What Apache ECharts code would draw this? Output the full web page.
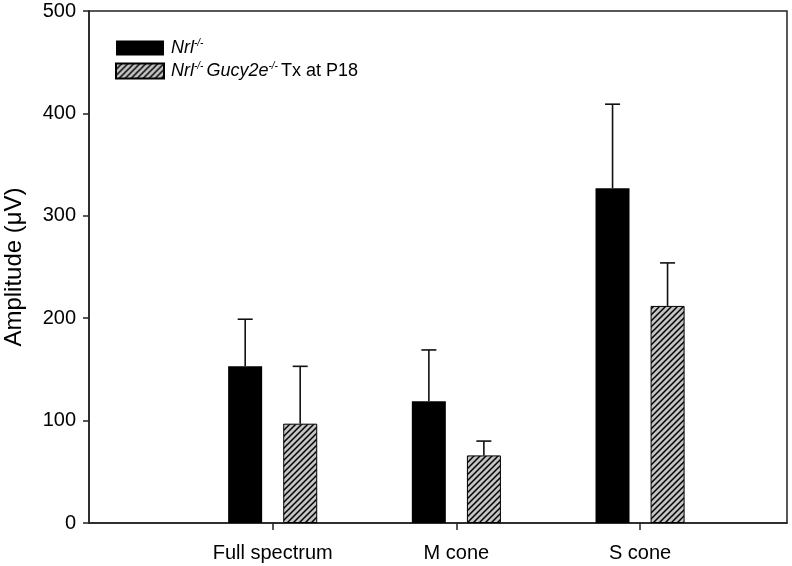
<!DOCTYPE html>
<html>
<head>
<meta charset="utf-8">
<script src="https://cdn.jsdelivr.net/npm/echarts@6/dist/echarts.min.js"></script>
<style>html,body{margin:0;padding:0;background:#fff}#c{width:792px;height:566px}</style>
</head>
<body>
<div id="c"></div>
<script>
const categories = ['Full spectrum', 'M cone', 'S cone'];
const nrlValues = [153, 119, 327];
const nrlErrors = [46, 50, 82];
const txValues = [97, 66, 212];
const txErrors = [56, 14, 42];
const yTicks = [0, 100, 200, 300, 400, 500];

const FONT = 'Liberation Sans, Arial, sans-serif';

// hatch pattern
const tile = document.createElement('canvas');
tile.width = 6; tile.height = 6;
const g = tile.getContext('2d');
g.fillStyle = '#c4c4c4';
g.fillRect(0, 0, 6, 6);
g.strokeStyle = '#000';
g.lineWidth = 1.5;
g.beginPath();
g.moveTo(-1, 7); g.lineTo(7, -1);
g.moveTo(-4, 4); g.lineTo(4, -4);
g.moveTo(2, 10); g.lineTo(10, 2);
g.stroke();
const hatch = { image: tile, repeat: 'repeat' };

const chart = echarts.init(document.getElementById('c'), null, { renderer: 'canvas' });

function errData(vals, errs) {
  return vals.map((v, i) => [i + 1, v, errs[i]]);
}
function errRender(offset) {
  return function (params, api) {
    const x = api.value(0), v = api.value(1), e = api.value(2);
    const p0 = api.coord([x, v]);
    const p1 = api.coord([x, v + e]);
    const cx = p0[0] + offset;
    const st = { stroke: '#111', lineWidth: 1.6 };
    return {
      type: 'group',
      children: [
        { type: 'line', shape: { x1: cx, y1: p0[1], x2: cx, y2: p1[1] }, style: st },
        { type: 'line', shape: { x1: cx - 7.5, y1: p1[1], x2: cx + 7.5, y2: p1[1] }, style: st }
      ]
    };
  };
}

const option = {
  animation: false,
  backgroundColor: '#fff',
  grid: {
    left: 89, top: 11, width: 698, height: 512, outerBoundsMode: 'none', containLabel: false,
    show: true, borderColor: '#222', borderWidth: 1.5, backgroundColor: 'transparent'
  },
  legend: {
    orient: 'vertical', left: 110, top: 33, itemWidth: 48, itemHeight: 15, itemGap: 4,
    icon: 'rect',
    data: ['Nrl', 'NrlGucy'],
    formatter: function (name) {
      return name === 'Nrl' ? '{i|Nrl}{s|-/-}' : '{i|Nrl}{s|-/-}{i|Gucy2e}{s|-/-}{n|Tx at P18}';
    },
    textStyle: {
      padding: [0, 0, 0, 2],
      rich: {
        i: { fontSize: 18, fontStyle: 'italic', fontFamily: FONT, color: '#000', lineHeight: 20 },
        s: { fontSize: 10, fontStyle: 'italic', fontFamily: FONT, color: '#000', lineHeight: 10, verticalAlign: 'top', padding: [0, 3, 0, 0] },
        n: { fontSize: 18, fontFamily: FONT, color: '#000', lineHeight: 20 }
      }
    }
  },
  xAxis: {
    type: 'value', min: 0, max: 3.8, interval: 1,
    splitLine: { show: false },
    axisLine: { show: true, lineStyle: { color: '#222', width: 1.5 } },
    axisTick: { show: true, length: 7, customValues: [1, 2, 3], lineStyle: { color: '#222', width: 1.5 } },
    axisLabel: {
      customValues: [1, 2, 3], margin: 20, fontSize: 20, fontFamily: FONT, color: '#000',
      formatter: function (v) { return categories[Math.round(v) - 1] || ''; }
    }
  },
  yAxis: {
    type: 'value', min: 0, max: 500, interval: 100,
    name: 'Amplitude (\u03bcV)', nameLocation: 'middle', nameGap: 63,
    nameTextStyle: { fontSize: 24, fontFamily: FONT, color: '#000' },
    splitLine: { show: false },
    axisLine: { show: true, lineStyle: { color: '#222', width: 1.5 } },
    axisTick: { show: true, length: 6, lineStyle: { color: '#222', width: 1.5 } },
    axisLabel: {
      margin: 13, fontSize: 20, fontFamily: FONT, color: '#000',
      formatter: function (v) { return yTicks.indexOf(v) >= 0 ? String(v) : ''; }
    }
  },
  series: [
    {
      name: 'Nrl', type: 'bar', barWidth: 34, barGap: '62%',
      data: nrlValues.map((v, i) => [i + 1, v]),
      itemStyle: { color: '#000' }
    },
    {
      name: 'NrlGucy', type: 'bar', barWidth: 34, barGap: '62%',
      data: txValues.map((v, i) => [i + 1, v]),
      itemStyle: { color: hatch, borderColor: '#000', borderWidth: 1 }
    },
    {
      name: 'errNrl', type: 'custom', renderItem: errRender(-27.5),
      data: errData(nrlValues, nrlErrors), encode: { x: 0, y: 1 }, z: 3
    },
    {
      name: 'errTx', type: 'custom', renderItem: errRender(27.5),
      data: errData(txValues, txErrors), encode: { x: 0, y: 1 }, z: 3
    }
  ]
};
chart.setOption(option);
</script>
</body>
</html>
